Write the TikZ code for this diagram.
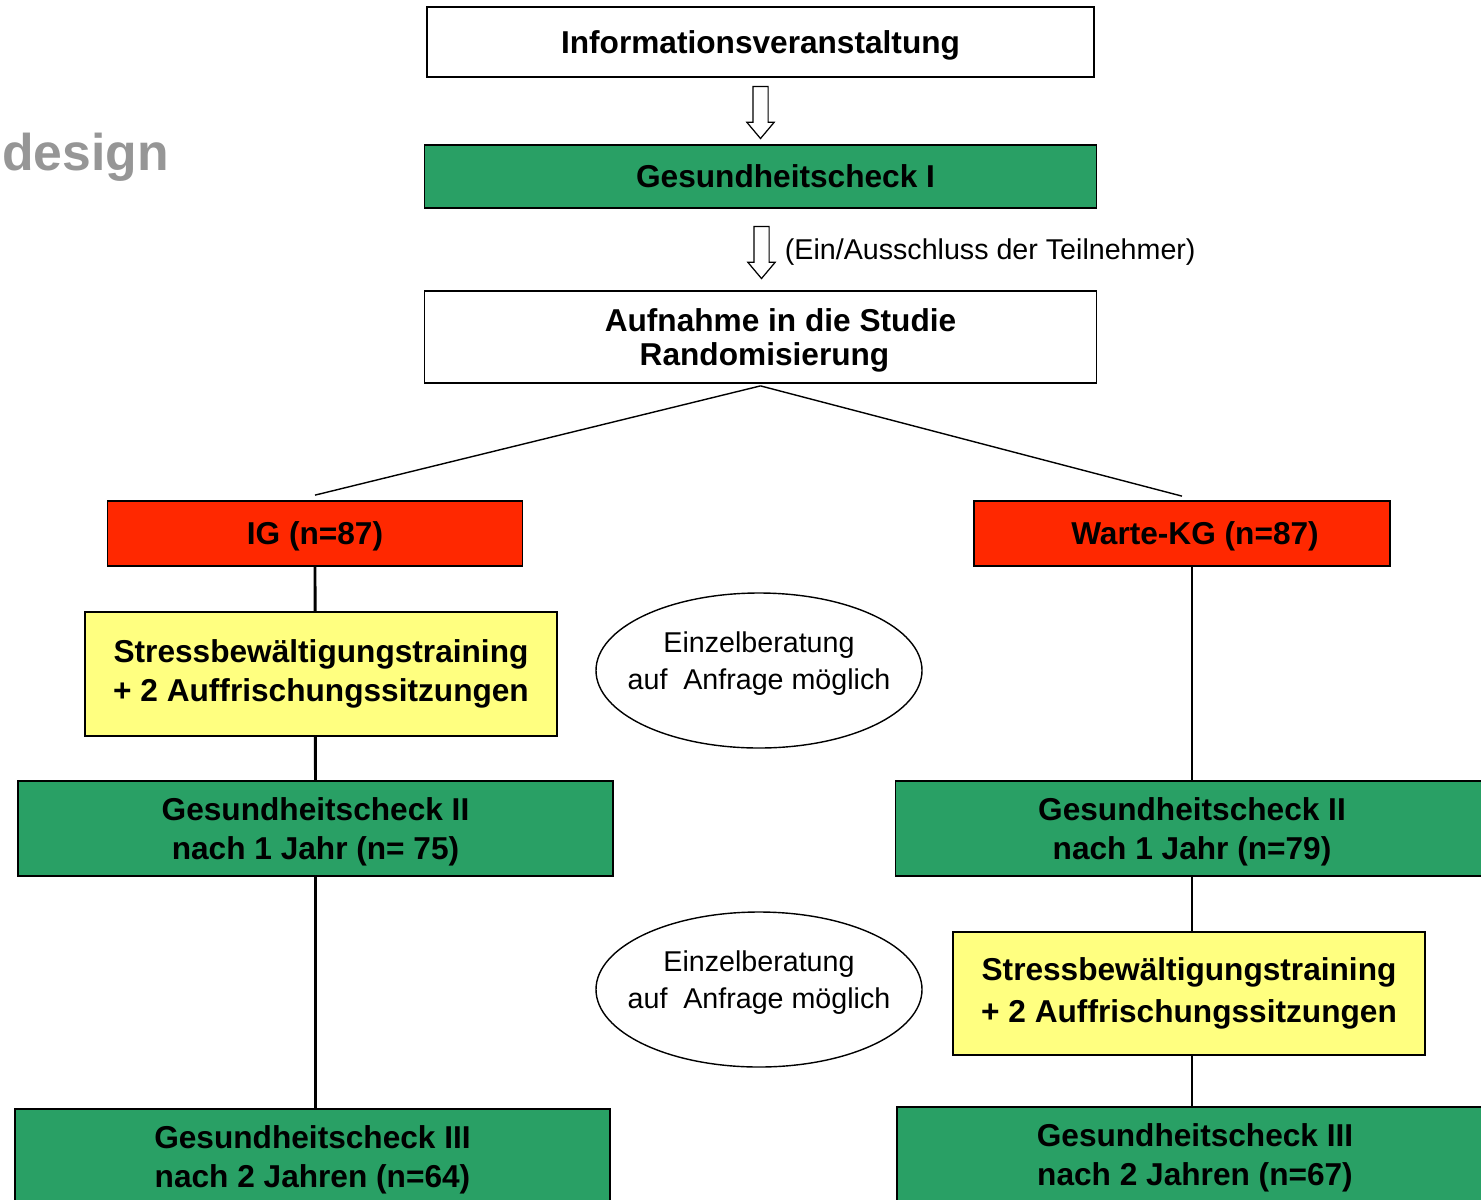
\documentclass[tikz,border=0pt]{standalone}
\usepackage{fontspec}
\setmainfont{Liberation Sans}
\usetikzlibrary{positioning,shapes.arrows,shapes.geometric,backgrounds,calc}
\definecolor{checkgreen}{RGB}{41,160,101}
\definecolor{groupred}{RGB}{255,40,0}
\definecolor{trainyellow}{RGB}{255,255,128}
\definecolor{titlegray}{RGB}{150,150,150}

\begin{document}
\begin{tikzpicture} [
      box/.style={draw, rectangle, line width=1pt, align=center, inner sep=0pt, text depth=0pt, font=\fontsize{18}{22}\selectfont\bfseries},
      check/.style={box, fill=checkgreen, minimum height=1.9cm},
      group/.style={box, fill=groupred, minimum width=8.3cm, minimum height=1.3cm},
      training/.style={box, fill=trainyellow, minimum width=9.44cm, minimum height=2.47cm, text depth=0.13cm},
      advice/.style={draw, ellipse, line width=0.8pt, minimum width=6.52cm, minimum height=3.1cm, inner xsep=-0.35cm, inner ysep=0pt, text depth=0.4cm, align=center, font=\fontsize{16.3}{21}\selectfont},
      hollow/.style={draw, single arrow, rotate=-90, fill=white, line width=0.7pt, inner xsep=0pt, inner ysep=0.14cm, minimum height=1.04cm, single arrow head extend=0.12cm, single arrow tip angle=80},
      link/.style={line width=1.6pt},
      split/.style={line width=0.8pt}
   ]
    \path[use as bounding box, clip] (0,0) rectangle (29.62,-23.98);

    \node[anchor=base west, inner sep=0pt, text=titlegray, font=\fontsize{29.4}{34}\selectfont\bfseries] (ndTitle) at (0.04,-3.40) {design};

    \node[box, minimum width=13.34cm, minimum height=1.4cm] (ndInfo) at (15.21,-0.84) {Informationsveranstaltung};
    \node[box, fill=checkgreen, minimum width=13.44cm, minimum height=1.26cm, below of=ndInfo, node distance=2.69cm] (ndCheckI) {\hspace*{1cm}Gesundheitscheck I};
    \node[box, minimum width=13.44cm, minimum height=1.84cm, below of=ndCheckI, node distance=3.21cm] (ndStudie) {\hspace*{0.8cm}Aufnahme in die Studie\\[-3pt]\hspace*{0.16cm}Randomisierung};

    \node[hollow] (ndArrowA) at ($(ndInfo.south)!0.5!(ndCheckI.north)+(0,0.06)$) {};
    \node[hollow] (ndArrowB) at ($(ndCheckI.south)!0.5!(ndStudie.north)+(0.02,0.03)$) {};
    \node[anchor=west, inner sep=0pt, font=\fontsize{16.3}{20}\selectfont] (ndNote) at ($(ndArrowB)+(0.46,-0.08)$) {(Ein/Ausschluss der Teilnehmer)};

    \node[group] (ndIG) at (6.30,-10.67) {IG (n=87)};
    \node[group, minimum width=8.32cm] (ndWarte) at (23.64,-10.67) {\hspace*{0.52cm}Warte-KG (n=87)};
    \coordinate[above=0.1cm of ndIG.north] (igTop);
    \coordinate[above=0.08cm of ndWarte.north] (kgTop);

    \node[training] (ndTrainIG) at (6.42,-13.48) {Stressbewältigungstraining\\+ 2 Auffrischungssitzungen};
    \node[advice] (ndAdviceA) at (15.18,-13.41) {Einzelberatung\\auf~ Anfrage möglich};

    \node[check, minimum width=11.9cm] (ndCheckIIa) at (6.31,-16.57) {Gesundheitscheck II\\nach 1 Jahr (n= 75)};
    \node[check, minimum width=11.86cm] (ndCheckIIb) at (23.84,-16.57) {Gesundheitscheck II\\nach 1 Jahr (n=79)};

    \node[advice, below of=ndAdviceA, node distance=6.38cm] (ndAdviceB) {Einzelberatung\\auf~ Anfrage möglich};
    \node[training, minimum height=2.46cm] (ndTrainKG) at (23.78,-19.87) {Stressbewältigungstraining\\[2pt]+ 2 Auffrischungssitzungen};

    \node[check, minimum width=11.9cm] (ndCheckIIIa) at (6.25,-23.13) {Gesundheitscheck III\\nach 2 Jahren (n=64)};
    \node[check, minimum width=11.92cm] (ndCheckIIIb) at (23.90,-23.09) {Gesundheitscheck III\\nach 2 Jahren (n=67)};

    \begin{scope}[on background layer]
      \draw[split] ([yshift=-0.04cm]ndStudie.south) -- (igTop);
      \draw[split] ([yshift=-0.04cm]ndStudie.south) -- (kgTop);
      \draw[link] (ndIG) -- (ndCheckIIa);
      \draw[link] (ndCheckIIa.south) -- (ndCheckIIa.south |- ndCheckIIIa.north);
      \draw[link] (ndCheckIIb.north |- ndWarte.south) -- (ndCheckIIb.north);
      \draw[link] (ndCheckIIb.south) -- (ndCheckIIb.south |- ndCheckIIIb.north);
    \end{scope}

  \end{tikzpicture}
\end{document}
